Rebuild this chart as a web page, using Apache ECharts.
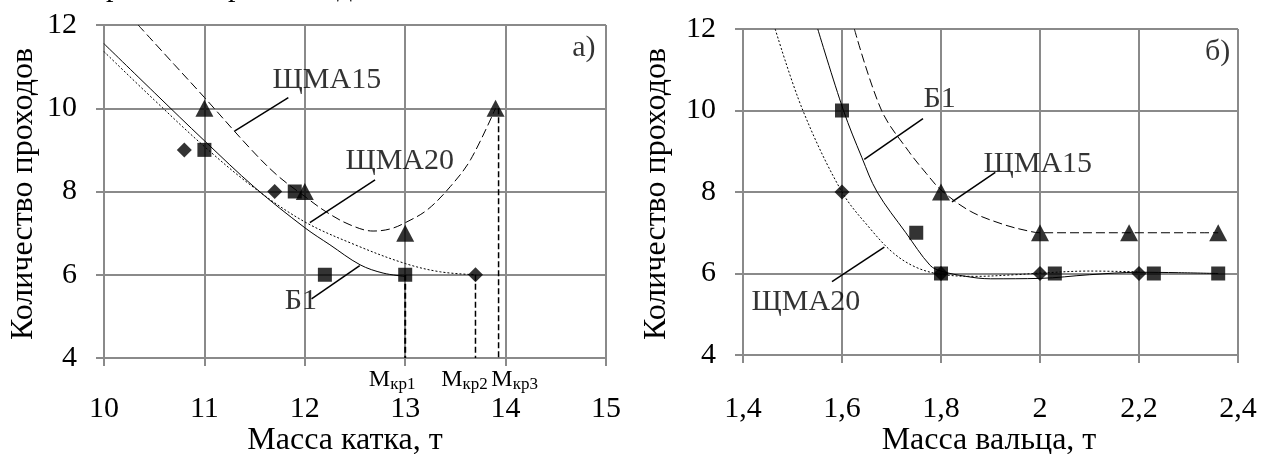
<!DOCTYPE html>
<html>
<head>
<meta charset="utf-8">
<script src="https://cdn.jsdelivr.net/npm/echarts@6/dist/echarts.min.js"></script>
<style>
html,body{margin:0;padding:0;background:#fff;}
#c{width:1261px;height:454px;}
</style>
</head>
<body>
<div id="c"></div>
<script>
// ================= DATA =================
// shared y ticks
const yTicks = [4, 6, 8, 10, 12];

// ---- panel а): масса катка ----
const xTicksA = [10, 11, 12, 13, 14, 15];
// measured points
const b1X_A = [11, 11.9, 12.2, 13];
const b1Y_A = [9, 8, 6, 6];
const shma20X_A = [10.8, 11.7, 13.7];
const shma20Y_A = [9, 8, 6];
const shma15X_A = [11, 12, 13, 13.9];
const shma15Y_A = [10, 8, 7, 10];
// trend curves
const b1TrendX_A = [10, 10.5, 11, 11.5, 12, 12.25, 12.55, 12.78, 13];
const b1TrendY_A = [11.55, 10.38, 9.22, 8.1, 7.13, 6.72, 6.24, 6.04, 5.96];
const shma20TrendX_A = [10, 10.5, 11, 11.5, 12, 12.5, 13, 13.35, 13.7];
const shma20TrendY_A = [11.36, 10.2, 9.08, 8.08, 7.27, 6.72, 6.27, 6.07, 6.0];
const shma15TrendX_A = [10.34, 10.7, 11, 11.45, 11.72, 12, 12.22, 12.45, 12.68, 12.85, 13, 13.22, 13.45, 13.65, 13.9];
const shma15TrendY_A = [12, 11.05, 10.26, 9.05, 8.4, 7.88, 7.5, 7.2, 7.05, 7.1, 7.25, 7.56, 8.12, 8.76, 10];
// critical masses (vertical dashed lines)
const critX = [13, 13.7, 13.93];
const critTop = [6, 6, 10];
const critNames = ['кр1', 'кр2', 'кр3'];
const critLabelX = [12.87, 13.59, 14.09];

// ---- panel б): масса вальца ----
const xTicksB = [1.4, 1.6, 1.8, 2.0, 2.2, 2.4];
const xTickLabelsB = ['1,4', '1,6', '1,8', '2', '2,2', '2,4'];
const b1X_B = [1.6, 1.75, 1.8, 2.03, 2.23, 2.36];
const b1Y_B = [10, 7, 6, 6, 6, 6];
const shma20X_B = [1.6, 1.8, 2.0, 2.2];
const shma20Y_B = [8, 6, 6, 6];
const shma15X_B = [1.8, 2.0, 2.18, 2.36];
const shma15Y_B = [8, 7, 7, 7];
const b1TrendX_B = [1.551, 1.603, 1.64, 1.671, 1.729, 1.778, 1.8, 1.85, 1.9, 2.0, 2.1, 2.2, 2.28, 2.36];
const b1TrendY_B = [12, 10, 8.85, 8.0, 7.0, 6.2, 6.06, 5.93, 5.87, 5.88, 5.97, 6.03, 6.02, 6.0];
const shma20TrendX_B = [1.465, 1.521, 1.6, 1.657, 1.704, 1.75, 1.8, 1.87, 1.95, 2.0, 2.1, 2.2];
const shma20TrendY_B = [12, 10, 8, 7.1, 6.5, 6.15, 5.98, 5.93, 5.97, 6.01, 6.06, 6.04];
const shma15TrendX_B = [1.625, 1.68, 1.7346, 1.77, 1.8, 1.859, 1.927, 1.974, 2.0, 2.18, 2.36];
const shma15TrendY_B = [12, 10, 9.0, 8.46, 8.05, 7.53, 7.2, 7.05, 7.0, 7.0, 7.0];

// ---- annotations (anchor values in data units) ----
const notesA = [
  {text: 'ЩМА15', at: [12.22, 10.68], from: [11.836, 10.255], to: [11.3, 9.45]},
  {text: 'ЩМА20', at: [12.945, 8.74], from: [12.70, 8.28], to: [12.05, 7.25]},
  {text: 'Б1', at: [11.96, 5.37], from: [12.067, 5.42], to: [12.547, 6.22]}
];
const notesB = [
  {text: 'Б1', at: [1.797, 10.29], from: [1.7636, 9.80], to: [1.645, 8.8]},
  {text: 'ЩМА15', at: [1.9956, 8.69], from: [1.9097, 8.48], to: [1.8222, 7.76]},
  {text: 'ЩМА20', at: [1.527, 5.29], from: [1.5798, 5.80], to: [1.6855, 6.65]}
];
const panelTagA = {text: 'а)', at: [14.78, 11.45]};
const panelTagB = {text: 'б)', at: [2.359, 11.43]};
const critLabelY = 3.48;
const titleY = 'Количество проходов';
const titleXA = 'Масса катка, т';
const titleXB = 'Масса вальца, т';

// ================= CHART =================
const FONT = '"Liberation Serif", "Times New Roman", serif';
const GRID = '#8a8a8a';
const zip = (xs, ys) => xs.map((x, i) => [x, ys[i]]);

function axisCommon() {
  return {
    axisLine: {show: true, lineStyle: {color: GRID, width: 2}},
    axisTick: {show: true, length: 8, lineStyle: {color: GRID, width: 2}},
    splitLine: {show: true, lineStyle: {color: GRID, width: 2}},
    axisLabel: {color: '#000', fontSize: 30, fontFamily: FONT}
  };
}

const series = [];
function trend(ax, xs, ys, dash) {
  series.push({
    type: 'line', xAxisIndex: ax, yAxisIndex: ax, data: zip(xs, ys),
    smooth: 0.35, symbol: 'none', showSymbol: false, silent: true,
    lineStyle: {color: '#000', width: 1, type: dash}, z: 3
  });
}
function points(ax, xs, ys, symbol, size) {
  series.push({
    type: 'scatter', xAxisIndex: ax, yAxisIndex: ax, data: zip(xs, ys),
    symbol: symbol, symbolSize: size, itemStyle: {color: '#000'}, silent: true, z: 6
  });
}
function segment(ax, p, q, width, dash) {
  series.push({
    type: 'line', xAxisIndex: ax, yAxisIndex: ax, data: [p, q],
    symbol: 'none', showSymbol: false, silent: true, clip: false,
    lineStyle: {color: '#000', width: width, type: dash}, z: 4
  });
}
function textAt(ax, pos, formatter) {
  series.push({
    type: 'scatter', xAxisIndex: ax, yAxisIndex: ax, data: [pos], clip: false,
    symbol: 'circle', symbolSize: 1, itemStyle: {color: 'rgba(0,0,0,0)'}, silent: true, z: 7,
    label: {show: true, position: 'inside', formatter: formatter, color: '#000',
      fontSize: 30, fontFamily: FONT}
  });
}

// panel а
trend(0, b1TrendX_A, b1TrendY_A, 'solid');
trend(0, shma20TrendX_A, shma20TrendY_A, [2, 2]);
trend(0, shma15TrendX_A, shma15TrendY_A, [9, 4]);
critX.forEach((x, i) => segment(0, [x, critTop[i]], [x, yTicks[0]], i === 0 ? 2 : 1.5, [6, 3]));
points(0, b1X_A, b1Y_A, 'rect', 14);
points(0, shma20X_A, shma20Y_A, 'diamond', 15);
points(0, shma15X_A, shma15Y_A, 'triangle', [18, 17]);
notesA.forEach(n => { segment(0, n.from, n.to, 1.5, 'solid'); textAt(0, n.at, n.text); });
textAt(0, panelTagA.at, panelTagA.text);

// panel б
trend(1, b1TrendX_B, b1TrendY_B, 'solid');
trend(1, shma20TrendX_B, shma20TrendY_B, [2, 2]);
trend(1, shma15TrendX_B, shma15TrendY_B, [9, 4]);
points(1, b1X_B, b1Y_B, 'rect', 14);
points(1, shma20X_B, shma20Y_B, 'diamond', 15);
points(1, shma15X_B, shma15Y_B, 'triangle', [18, 17]);
notesB.forEach(n => { segment(1, n.from, n.to, 1.5, 'solid'); textAt(1, n.at, n.text); });
textAt(1, panelTagB.at, panelTagB.text);

const yAxisBase = (gi) => Object.assign(axisCommon(), {
  type: 'value', gridIndex: gi, min: yTicks[0], max: yTicks[yTicks.length - 1],
  interval: yTicks[1] - yTicks[0]
});
const yA = yAxisBase(0); yA.axisLabel.margin = 27;
const yB = yAxisBase(1); yB.axisLabel.margin = 27;

const xA = Object.assign(axisCommon(), {
  type: 'value', gridIndex: 0, min: xTicksA[0], max: xTicksA[xTicksA.length - 1],
  interval: xTicksA[1] - xTicksA[0]
});
xA.axisLabel.margin = 36;
const xB = Object.assign(axisCommon(), {
  type: 'value', gridIndex: 1, min: xTicksB[0], max: xTicksB[xTicksB.length - 1],
  interval: 0.2
});
xB.axisLabel.margin = 39;
xB.axisLabel.formatter = v => xTickLabelsB[Math.round((v - xTicksB[0]) / 0.2)] || '';

const titleStyle = (t) => ({text: t, font: '32px "Liberation Serif", serif', fill: '#000', align: 'center', verticalAlign: 'middle'});
const fragStyle = (t) => ({text: t, font: '30px "Liberation Serif", serif', fill: '#000', verticalAlign: 'middle'});

const chart = echarts.init(document.getElementById('c'), null, {renderer: 'canvas', devicePixelRatio: 1});
chart.setOption({
  animation: false,
  backgroundColor: '#fff',
  grid: [
    {left: 104, top: 25, width: 502, height: 333},
    {left: 743, top: 29, width: 495, height: 326}
  ],
  xAxis: [xA, xB],
  yAxis: [yA, yB],
  series: series
});

// text placed through the axis scale (M_кр labels) + titles
const graphics = [
  {type: 'text', x: 24, y: 194, rotation: Math.PI / 2, style: titleStyle(titleY)},
  {type: 'text', x: 657, y: 194, rotation: Math.PI / 2, style: titleStyle(titleY)},
  {type: 'text', x: 345, y: 441, style: titleStyle(titleXA)},
  {type: 'text', x: 989, y: 441, style: titleStyle(titleXB)},
  {type: 'text', x: 106, y: -11.5, style: fragStyle('р')},
  {type: 'text', x: 228, y: -11.5, style: fragStyle('р')},
  {type: 'text', x: 337, y: -11.5, style: fragStyle('д')}
];
critNames.forEach((nm, i) => {
  const p = chart.convertToPixel({gridIndex: 0}, [critLabelX[i], critLabelY]);
  graphics.push({
    type: 'text', x: p[0], y: p[1], z: 10,
    style: {
      text: '{m|М}{s|' + nm + '}', align: 'center', verticalAlign: 'middle', fill: '#000',
      rich: {
        m: {fontSize: 24, fontFamily: FONT, font: '24px "Liberation Serif", serif', fill: '#000'},
        s: {fontSize: 17, fontFamily: FONT, font: '17px "Liberation Serif", serif', fill: '#000', padding: [10, 0, 0, 0]}
      }
    }
  });
});
chart.setOption({graphic: graphics});
</script>
</body>
</html>
